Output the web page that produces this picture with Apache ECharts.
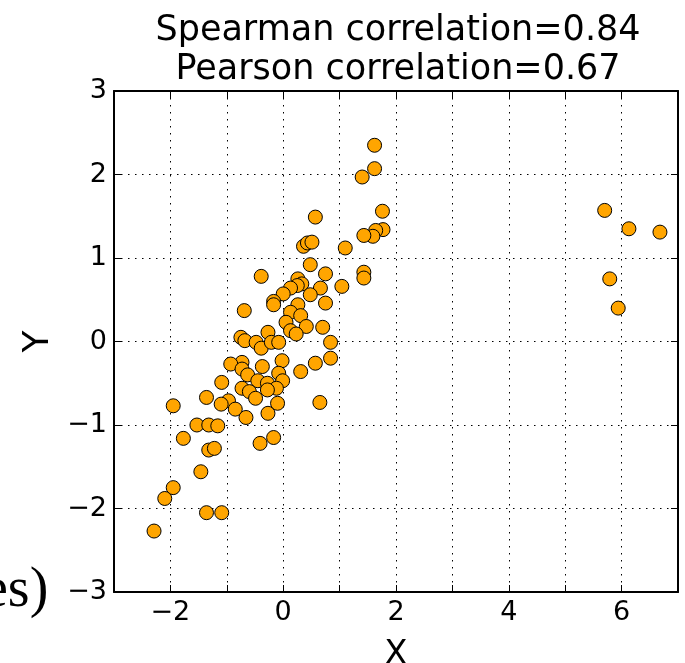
<!DOCTYPE html>
<html><head><meta charset="utf-8">
<script src="https://cdn.jsdelivr.net/npm/echarts@6/dist/echarts.min.js"></script>
<style>html,body{margin:0;padding:0;background:#fff;overflow:hidden}#c{width:685px;height:663px}</style>
</head><body><div id="c"></div>
<script>
const titleLines = ['Spearman correlation=0.84', 'Pearson correlation=0.67'];
const xName = 'X';
const yName = 'Y';
const xVals = [1.62,1.62,1.40,1.76,0.57,1.77,1.64,1.59,1.43,1.10,0.36,0.43,0.51,0.48,-0.39,1.43,1.43,0.75,1.04,0.26,0.33,0.25,0.66,0.13,0.48,0.00,-0.17,-0.17,0.75,0.26,-0.69,0.13,0.31,0.05,0.41,0.13,0.23,0.70,0.84,
 -0.75,-0.68,-0.48,-0.27,-0.39,-0.21,-0.08,0.84,0.57,0.31,-0.02,-0.37,-0.73,-0.93,-0.73,-0.63,-0.45,-0.28,-0.08,-0.01,-0.12,-0.28,-0.73,-0.60,-0.49,-1.09,-1.36,-0.97,-1.10,-0.85,-0.66,-0.27,-0.10,0.65,-1.95,-1.53,-1.32,-1.16,-1.77,-0.41,-0.17,-1.32,-1.22,-1.46,-1.95,-2.10,-1.36,-1.09,-2.29,
 5.70,6.13,6.68,5.79,5.94];
const yVals = [2.35,2.07,1.97,1.56,1.49,1.34,1.33,1.26,1.27,1.12,1.14,1.18,1.19,0.92,0.78,0.83,0.76,0.81,0.66,0.75,0.69,0.67,0.64,0.64,0.56,0.57,0.48,0.44,0.46,0.44,0.37,0.35,0.31,0.23,0.18,0.13,0.09,0.17,-0.01,
 0.05,0.01,-0.01,0.11,-0.08,-0.01,-0.01,-0.20,-0.26,-0.36,-0.23,-0.30,-0.25,-0.27,-0.33,-0.40,-0.47,-0.50,-0.38,-0.47,-0.56,-0.58,-0.56,-0.60,-0.68,-0.49,-0.67,-0.71,-0.75,-0.81,-0.91,-0.86,-0.74,-0.73,-0.77,-1.00,-1.00,-1.01,-1.16,-1.22,-1.15,-1.30,-1.28,-1.56,-1.75,-1.88,-2.05,-2.05,-2.27,
 1.57,1.35,1.31,0.75,0.40];
const xTicks = [-2, 0, 2, 4, 6];
const yTicks = [-3, -2, -1, 0, 1, 2, 3];
const sideText = 'es)';

const pts = xVals.map((x, i) => [x, yVals[i]]);
const fmt = v => String(v).replace('-', '\u2212');
const font = 'DejaVu Sans';
const chart = echarts.init(document.getElementById('c'));
const grid = {left: 114, right: 7, top: 91, bottom: 71, containLabel: false, outerBoundsMode: 'none'};
const line = {lineStyle: {color: '#000', width: 2}};
const tick = {show: true, inside: true, length: 7, lineStyle: {color: '#000', width: 1}};
chart.setOption({
  animation: false,
  backgroundColor: '#fff',
  title: {text: titleLines.join('\n'), left: 393, top: 6, textAlign: 'center',
    textStyle: {fontFamily: font, fontSize: 35, fontWeight: 'normal', color: '#000', lineHeight: 39}},
  grid: grid,
  graphic: [
    {type: 'text', left: -17, top: 563, style: {text: sideText, font: '56px "Liberation Serif"', fill: '#000'}}
  ],
  xAxis: [{
    type: 'value', min: -3, max: 7, interval: 1,
    name: xName, nameLocation: 'middle', nameGap: 46,
    nameTextStyle: {fontFamily: font, fontSize: 34, color: '#000'},
    axisLine: {show: true, onZero: false, ...line},
    axisTick: tick,
    axisLabel: {fontFamily: font, fontSize: 27, color: '#000', margin: 7,
      formatter: v => xTicks.includes(v) ? fmt(v) : ''},
    splitLine: {show: true, lineStyle: {color: '#000', type: [1.5, 5.5], width: 1}}
  }, {
    type: 'value', min: -3, max: 7, interval: 1, position: 'top',
    axisLine: {show: true, onZero: false, ...line},
    axisTick: tick,
    axisLabel: {show: false}, splitLine: {show: false}
  }],
  yAxis: [{
    type: 'value', min: -3, max: 3, interval: 1,
    name: yName, nameLocation: 'middle', nameGap: 53, nameRotate: 90,
    nameTextStyle: {fontFamily: font, fontSize: 36, color: '#000'},
    axisLine: {show: true, onZero: false, ...line},
    axisTick: tick,
    axisLabel: {fontFamily: font, fontSize: 27, color: '#000', margin: 7, formatter: v => fmt(v)},
    splitLine: {show: true, lineStyle: {color: '#000', type: [1.5, 5.5], width: 1}}
  }, {
    type: 'value', min: -3, max: 3, interval: 1, position: 'right',
    axisLine: {show: true, onZero: false, ...line},
    axisTick: tick,
    axisLabel: {show: false}, splitLine: {show: false}
  }],
  series: [{
    type: 'scatter', data: pts, symbolSize: 14,
    itemStyle: {color: '#FFA500', borderColor: '#000', borderWidth: 1, opacity: 1}
  }]
});
</script></body></html>
